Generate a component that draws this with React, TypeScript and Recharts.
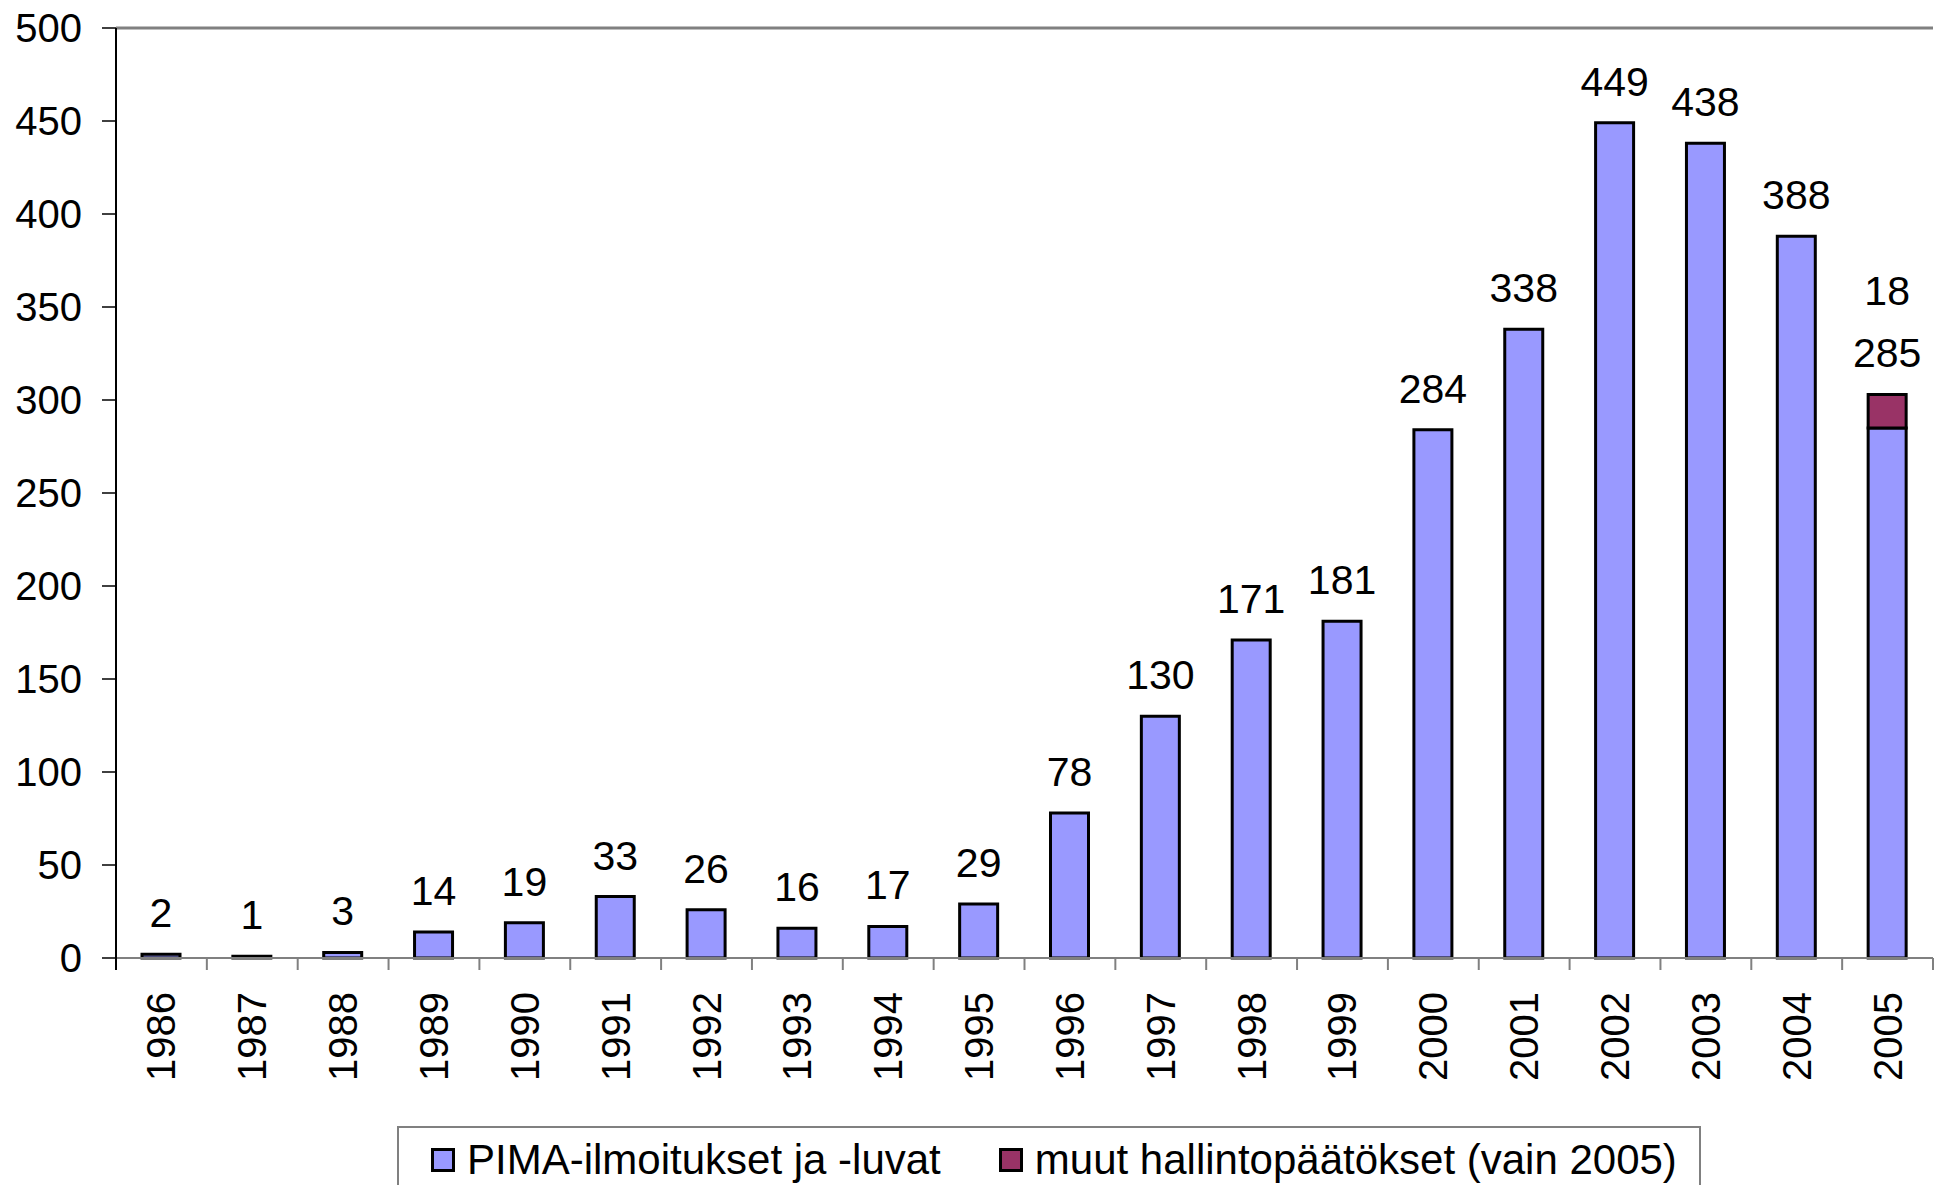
import React from 'react';
import { BarChart, Bar, XAxis, YAxis, CartesianGrid, LabelList, Legend, ReferenceLine } from 'recharts';

const years = ['1986', '1987', '1988', '1989', '1990', '1991', '1992', '1993', '1994', '1995', '1996', '1997', '1998', '1999', '2000', '2001', '2002', '2003', '2004', '2005'];
const pimaValues = [2, 1, 3, 14, 19, 33, 26, 16, 17, 29, 78, 130, 171, 181, 284, 338, 449, 438, 388, 285];
const muutValues: (number | null)[] = [null, null, null, null, null, null, null, null, null, null, null, null, null, null, null, null, null, null, null, 18];
const yTicks = [0, 50, 100, 150, 200, 250, 300, 350, 400, 450, 500];
const seriesNames = ['PIMA-ilmoitukset ja -luvat', 'muut hallintopäätökset (vain 2005)'];
const seriesColors = ['#9999FF', '#993366'];

const data = years.map((year, i) => ({ year, pima: pimaValues[i], muut: muutValues[i] }));

const FONT = '"Liberation Sans", Arial, sans-serif';

const XTick = (props: any) => {
  const { x, y, payload, index, visibleTicksCount, width } = props;
  const half = payload && payload.offset ? payload.offset : (width && visibleTicksCount ? width / visibleTicksCount / 2 : 45);
  const ty = y + 34;
  return (
    <g>
      <line x1={x - half} y1={y} x2={x - half} y2={y + 12} stroke={index === 0 ? '#000' : '#808080'} strokeWidth={2} />
      {index === visibleTicksCount - 1 && (
        <line x1={x + half} y1={y} x2={x + half} y2={y + 12} stroke="#808080" strokeWidth={2} />
      )}
      <text
        x={x}
        y={ty}
        transform={`rotate(-90, ${x}, ${ty})`}
        textAnchor="end"
        dy="0.35em"
        fontSize={40}
        fontFamily={FONT}
        fill="#000"
      >
        {payload.value}
      </text>
    </g>
  );
};

const PimaLabel = (props: any) => {
  const { x, y, width, height, value, index } = props;
  if (value == null) return null;
  const other = muutValues[index];
  const extra = other && value ? (height / value) * other : 0;
  return (
    <text x={x + width / 2} y={y - extra - 27} textAnchor="middle" fontSize={41} fontFamily={FONT} fill="#000">
      {value}
    </text>
  );
};

const MuutLabel = (props: any) => {
  const { x, y, width, value } = props;
  if (value == null) return null;
  return (
    <text x={x + width / 2} y={y - 27 - 62} textAnchor="middle" fontSize={41} fontFamily={FONT} fill="#000">
      {value}
    </text>
  );
};

const LegendBox = () => (
  <div
    style={{
      boxSizing: 'border-box',
      width: 1304,
      height: 80,
      border: '2px solid #808080',
      display: 'flex',
      alignItems: 'flex-start',
      paddingLeft: 32,
      paddingTop: 8,
      fontFamily: FONT,
      fontSize: 42,
      color: '#000',
      lineHeight: '48px',
      whiteSpace: 'nowrap',
    }}
  >
    {seriesNames.map((name, i) => (
      <div key={name} style={{ display: 'flex', alignItems: 'center', marginRight: i === 0 ? 58 : 0 }}>
        <span
          style={{
            display: 'inline-block',
            boxSizing: 'border-box',
            width: 24,
            height: 24,
            background: seriesColors[i],
            border: '3px solid #000',
            marginRight: 12,
          }}
        />
        <span>{name}</span>
      </div>
    ))}
  </div>
);

export default function App() {
  return (
    <div style={{ width: 1944, height: 1185, overflow: 'hidden', background: '#fff' }}>
      <style>{'body{margin:0;}'}</style>
      <BarChart
        width={1944}
        height={1185}
        data={data}
        margin={{ top: 28, right: 11, left: 0, bottom: 0 }}
        barSize={38}
      >
        <CartesianGrid vertical={false} stroke="#000" strokeWidth={1} />
        <XAxis
          dataKey="year"
          type="category"
          height={227}
          interval={0}
          tickLine={false}
          tickSize={0}
          tickMargin={0}
          axisLine={{ stroke: '#808080', strokeWidth: 2 }}
          tick={<XTick />}
        />
        <YAxis
          yAxisId="left"
          width={116}
          domain={[0, 500]}
          ticks={yTicks}
          interval={0}
          tickSize={14}
          tickMargin={20}
          tickLine={{ stroke: '#000', strokeWidth: 1.5 }}
          axisLine={{ stroke: '#000', strokeWidth: 2 }}
          tick={{ fontSize: 40, fontFamily: FONT, fill: '#000' }}
        />
        <YAxis
          yAxisId="right"
          orientation="right"
          width={0}
          domain={[0, 500]}
          tick={false}
          tickLine={false}
          axisLine={{ stroke: '#808080', strokeWidth: 3 }}
        />
        <ReferenceLine yAxisId="left" y={500} stroke="#808080" strokeWidth={3} />
        <Legend
          layout="vertical"
          align="center"
          verticalAlign="middle"
          wrapperStyle={{ top: 1126, left: 397, width: 1304, height: 80 }}
          content={<LegendBox />}
        />
        <Bar
          yAxisId="left"
          dataKey="pima"
          name={seriesNames[0]}
          stackId="a"
          fill={seriesColors[0]}
          stroke="#000"
          strokeWidth={3}
          isAnimationActive={false}
        >
          <LabelList dataKey="pima" content={<PimaLabel />} />
        </Bar>
        <Bar
          yAxisId="left"
          dataKey="muut"
          name={seriesNames[1]}
          stackId="a"
          fill={seriesColors[1]}
          stroke="#000"
          strokeWidth={3}
          isAnimationActive={false}
        >
          <LabelList dataKey="muut" content={<MuutLabel />} />
        </Bar>
      </BarChart>
    </div>
  );
}
